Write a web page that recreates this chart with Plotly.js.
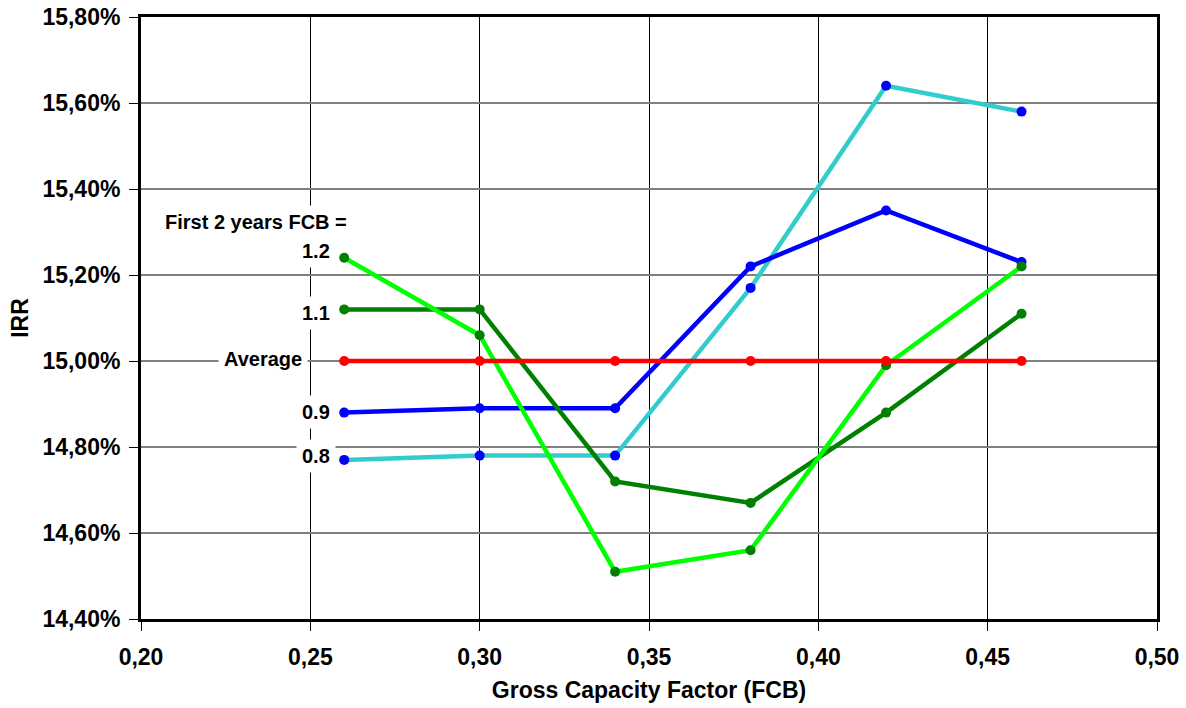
<!DOCTYPE html>
<html>
<head>
<meta charset="utf-8">
<script src="https://cdn.plot.ly/plotly-3.0.1.min.js"></script>
<style>html,body{margin:0;padding:0;background:#fff;}#chart{width:1186px;height:708px;}</style>
</head>
<body>
<div id="chart"></div>
<script>
// Gross capacity factor (FCB) values
var fcb = [0.26, 0.30, 0.34, 0.38, 0.42, 0.46];
// IRR (%) by scenario "First 2 years FCB ="
var irr08  = [14.77, 14.78, 14.78, 15.17, 15.64, 15.58];
var irr09  = [14.88, 14.89, 14.89, 15.22, 15.35, 15.23];
var irr11  = [15.12, 15.12, 14.72, 14.67, 14.88, 15.11];
var irr12  = [15.24, 15.06, 14.51, 14.56, 14.99, 15.22];
var irrAvg = [15.00, 15.00, 15.00, 15.00, 15.00, 15.00];
var seriesNames = ["0.8", "0.9", "1.1", "1.2", "Average"];
var headerText = "First 2 years FCB =";
var xTitle = "Gross Capacity Factor (FCB)";
var yTitle = "IRR";

var FONT = "Liberation Sans, Arial, sans-serif";

function tr(y, name, lineColor, markerColor) {
  return {
    x: fcb, y: y, name: name, type: "scatter", mode: "lines+markers",
    line: {color: lineColor, width: 4.5},
    marker: {color: markerColor, size: 10},
    hoverinfo: "skip"
  };
}

var data = [
  tr(irr08, seriesNames[0], "#33CCCC", "#0000FF"),
  tr(irr09, seriesNames[1], "#0000FF", "#0000FF"),
  tr(irr11, seriesNames[2], "#008000", "#008000"),
  tr(irr12, seriesNames[3], "#00FF00", "#008000"),
  tr(irrAvg, seriesNames[4], "#FF0000", "#FF0000")
];

function ann(text, x, y) {
  return {
    text: text, x: x, y: y, xref: "x", yref: "y",
    xanchor: "right", yanchor: "middle", showarrow: false,
    bgcolor: "#FFFFFF", borderpad: 5,
    font: {family: FONT, size: 20, color: "#000", weight: "bold"}
  };
}

var layout = {
  width: 1186, height: 708,
  margin: {l: 141, r: 29, t: 17, b: 89},
  paper_bgcolor: "#FFFFFF", plot_bgcolor: "#FFFFFF",
  separators: ",.",
  showlegend: false,
  hovermode: false,
  font: {family: FONT, color: "#000"},
  xaxis: {
    range: [0.20, 0.50], dtick: 0.05, tick0: 0.20, tickformat: ".2f",
    showgrid: true, gridcolor: "#000000", gridwidth: 1,
    showline: true, linecolor: "#000", linewidth: 3, mirror: true,
    ticks: "outside", ticklen: 9, tickcolor: "#000", tickwidth: 1,
    tickfont: {family: FONT, size: 23, color: "#000", weight: "bold"},
    ticklabelstandoff: 6,
    zeroline: false,
    title: {text: xTitle, standoff: 14, font: {family: FONT, size: 23, color: "#000", weight: "bold"}}
  },
  yaxis: {
    range: [14.40, 15.80], dtick: 0.20, tick0: 14.40, tickformat: ".2f", ticksuffix: "%",
    showgrid: true, gridcolor: "#808080", gridwidth: 1.5,
    showline: true, linecolor: "#000", linewidth: 3, mirror: true,
    ticks: "outside", ticklen: 9, tickcolor: "#000", tickwidth: 1,
    tickfont: {family: FONT, size: 23, color: "#000", weight: "bold"},
    ticklabelstandoff: 4,
    zeroline: false,
    title: {text: yTitle, standoff: 8, font: {family: FONT, size: 23, color: "#000", weight: "bold"}}
  },
  annotations: [
    ann(headerText, 0.2626, 15.323),
    ann(seriesNames[3], 0.2576, 15.256),
    ann(seriesNames[2], 0.2576, 15.112),
    ann(seriesNames[4], 0.2493, 15.005),
    ann(seriesNames[1], 0.2576, 14.881),
    ann(seriesNames[0], 0.2576, 14.779)
  ]
};

Plotly.newPlot("chart", data, layout, {displayModeBar: false, staticPlot: true});
</script>
</body>
</html>
